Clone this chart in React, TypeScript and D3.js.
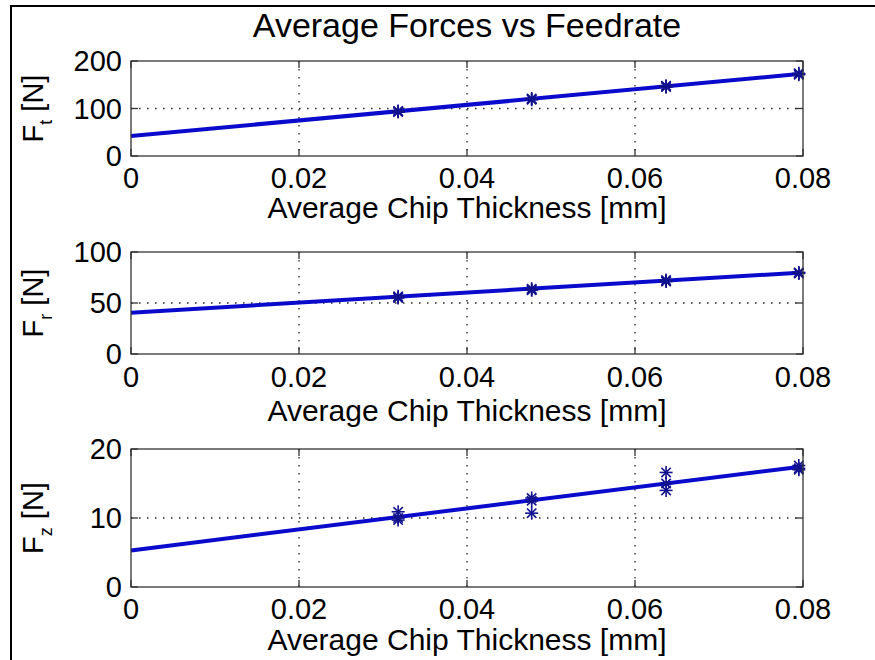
import React from "react";
import * as d3 from "d3";

const chartTitle = "Average Forces vs Feedrate";
const xAxisLabel = "Average Chip Thickness [mm]";
const xTickValues = [0, 0.02, 0.04, 0.06, 0.08];
const xTickLabels = ["0", "0.02", "0.04", "0.06", "0.08"];
const chipThickness = [0.0318, 0.0477, 0.0637, 0.0795];
const fitX = [0, 0.0795];

// Tangential force
const ftRun1 = [95, 121, 148, 174];
const ftRun2 = [93.5, 119.5, 146.5, 172.5];
const ftRun3 = [92.5, 118.5, 145, 171];
const ftFit = [42, 172.5];
const ftTicks = [0, 100, 200];

// Radial force
const frRun1 = [56.5, 64, 72.5, 80];
const frRun2 = [55.5, 63, 71.5, 79.5];
const frRun3 = [55, 62.5, 71, 79];
const frFit = [40.5, 79.7];
const frTicks = [0, 50, 100];

// Axial force
const fzRun1 = [10.9, 12.9, 16.6, 17.6];
const fzRun2 = [10.0, 12.5, 15.0, 17.2];
const fzRun3 = [9.7, 10.7, 14.0, 17.0];
const fzFit = [5.3, 17.4];
const fzTicks = [0, 10, 20];

const panels = [
  { sub: "t", runs: [ftRun1, ftRun2, ftRun3], fit: ftFit, ticks: ftTicks, top: 61, bottom: 156, tickBase: 188, labelBase: 218 },
  { sub: "r", runs: [frRun1, frRun2, frRun3], fit: frFit, ticks: frTicks, top: 252, bottom: 354, tickBase: 387, labelBase: 421 },
  { sub: "z", runs: [fzRun1, fzRun2, fzRun3], fit: fzFit, ticks: fzTicks, top: 449, bottom: 587, tickBase: 619, labelBase: 650 },
];

const W = 875;
const H = 660;
const LEFT = 131;
const RIGHT = 803;
const FONT = "'Liberation Sans', Arial, Helvetica, sans-serif";
const TICK_LEN = 7;

function Asterisk({ cx, cy, r }: { cx: number; cy: number; r: number }) {
  const d = r * 0.72;
  return (
    <g stroke="#12128e" strokeWidth={1.6}>
      <line x1={cx - r} y1={cy} x2={cx + r} y2={cy} />
      <line x1={cx} y1={cy - r} x2={cx} y2={cy + r} />
      <line x1={cx - d} y1={cy - d} x2={cx + d} y2={cy + d} />
      <line x1={cx - d} y1={cy + d} x2={cx + d} y2={cy - d} />
    </g>
  );
}

function Panel({ p }: { p: (typeof panels)[number] }) {
  const x = d3.scaleLinear().domain([0, 0.08]).range([LEFT, RIGHT]);
  const yMax = p.ticks[p.ticks.length - 1];
  const y = d3.scaleLinear().domain([0, yMax]).range([p.bottom, p.top]);
  const line = d3
    .line<number>()
    .x((_, i) => x(fitX[i]))
    .y((v) => y(v));
  const midY = (p.top + p.bottom) / 2;
  return (
    <g>
      {xTickValues.slice(1, -1).map((t) => (
        <line key={"gx" + t} x1={x(t)} x2={x(t)} y1={p.top} y2={p.bottom} stroke="#222" strokeWidth={1.3} strokeDasharray="1.5,6.5" />
      ))}
      {p.ticks.slice(1, -1).map((t) => (
        <line key={"gy" + t} x1={LEFT} x2={RIGHT} y1={y(t)} y2={y(t)} stroke="#222" strokeWidth={1.3} strokeDasharray="1.5,6.5" />
      ))}
      {xTickValues.map((t) => (
        <g key={"tx" + t} stroke="#333" strokeWidth={1.3}>
          <line x1={x(t)} x2={x(t)} y1={p.bottom} y2={p.bottom - TICK_LEN} />
          <line x1={x(t)} x2={x(t)} y1={p.top} y2={p.top + TICK_LEN} />
        </g>
      ))}
      {p.ticks.map((t) => (
        <g key={"ty" + t} stroke="#333" strokeWidth={1.3}>
          <line x1={LEFT} x2={LEFT + TICK_LEN} y1={y(t)} y2={y(t)} />
          <line x1={RIGHT} x2={RIGHT - TICK_LEN} y1={y(t)} y2={y(t)} />
        </g>
      ))}
      <path d={line(p.fit) || ""} fill="none" stroke="#0a0acc" strokeWidth={4} />
      {p.runs.map((run, ri) =>
        run.map((v, i) => <Asterisk key={ri + "-" + i} cx={x(chipThickness[i])} cy={y(v)} r={6.5} />)
      )}
      <rect x={LEFT} y={p.top} width={RIGHT - LEFT} height={p.bottom - p.top} fill="none" stroke="#333" strokeWidth={1.3} />
      {p.ticks.map((t) => (
        <text key={"yl" + t} x={LEFT - 9} y={y(t)} dy="0.36em" textAnchor="end" fontSize={29} fontFamily={FONT} fill="#000">
          {t}
        </text>
      ))}
      {xTickValues.map((t, i) => (
        <text key={"xl" + t} x={x(t)} y={p.tickBase} textAnchor="middle" fontSize={29} fontFamily={FONT} fill="#000">
          {xTickLabels[i]}
        </text>
      ))}
      <text x={(LEFT + RIGHT) / 2} y={p.labelBase} textAnchor="middle" fontSize={30} fontFamily={FONT} fill="#000">
        {xAxisLabel}
      </text>
      <text transform={`translate(43,${midY}) rotate(-90)`} textAnchor="middle" fontSize={29} fontFamily={FONT} fill="#000">
        F
        <tspan fontSize={18} dy={9}>{p.sub}</tspan>
        <tspan dy={-9}> [N]</tspan>
      </text>
    </g>
  );
}

export default function App() {
  return (
    <svg
      width={W}
      height={H}
      viewBox={`0 0 ${W} ${H}`}
      style={{ position: "absolute", left: 0, top: 0, background: "#fff", display: "block" }}
    >
      <rect x={0} y={0} width={W} height={H} fill="#fff" />
      <line x1={11} y1={6} x2={11} y2={H} stroke="#000" strokeWidth={2} />
      <line x1={10} y1={6} x2={W} y2={6} stroke="#000" strokeWidth={2} />
      <text x={(LEFT + RIGHT) / 2} y={37} textAnchor="middle" fontSize={34} fontFamily={FONT} fill="#000">
        {chartTitle}
      </text>
      {panels.map((p, i) => (
        <Panel key={i} p={p} />
      ))}
    </svg>
  );
}
